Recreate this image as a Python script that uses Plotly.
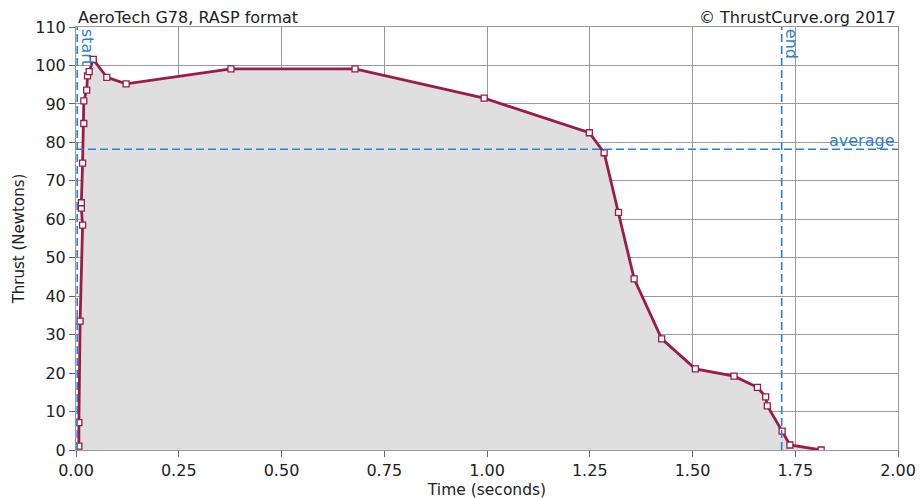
import plotly.graph_objects as go

# Data
time_s = [0.007, 0.007, 0.010, 0.016, 0.013, 0.013, 0.016, 0.019, 0.019, 0.026,
          0.028, 0.032, 0.042, 0.075, 0.122, 0.377, 0.679, 0.993, 1.249, 1.285,
          1.320, 1.358, 1.425, 1.507, 1.601, 1.658, 1.678, 1.682, 1.718, 1.737, 1.813]
thrust_n = [1.0, 7.1, 33.5, 58.5, 62.9, 64.3, 74.6, 84.9, 90.8, 93.6,
            97.3, 98.4, 101.6, 96.9, 95.2, 99.1, 99.1, 91.5, 82.5, 77.3,
            61.8, 44.5, 28.9, 21.1, 19.2, 16.3, 13.8, 11.5, 4.9, 1.3, 0.0]
start_t = 0.003
end_t = 1.717
average_n = 78.2

title_text = "AeroTech G78, RASP format"
credit_text = "© ThrustCurve.org 2017"
x_ticks = [0, 0.25, 0.5, 0.75, 1.0, 1.25, 1.5, 1.75, 2.0]
y_ticks = list(range(0, 111, 10))

line_col = "#9c1c47"
blue = "#2a7fdc"
grid = "#9a9a9a"
font = "DejaVu Sans"
fs = 16

fig = go.Figure()
fig.add_trace(go.Scatter(
    x=time_s, y=thrust_n, mode="lines+markers", fill="tozeroy",
    fillcolor="#dfdfdf",
    line=dict(color=line_col, width=2.8),
    marker=dict(symbol="square", size=6, color="white",
                line=dict(color=line_col, width=1.3)),
    showlegend=False, hoverinfo="x+y"))

for xv in (start_t, end_t):
    fig.add_shape(type="line", x0=xv, x1=xv, y0=0, y1=110, xref="x", yref="y",
                  line=dict(color=blue, width=1.6, dash="8px,4px"))
fig.add_shape(type="line", x0=0, x1=2, y0=average_n, y1=average_n, xref="x", yref="y",
              line=dict(color=blue, width=1.6, dash="8px,4px"))

fig.add_annotation(x=start_t, y=110, xref="x", yref="y", text="start", textangle=90,
                   showarrow=False, xanchor="left", yanchor="top", xshift=-1,
                   font=dict(family=font, size=fs, color=blue))
fig.add_annotation(x=end_t, y=110, xref="x", yref="y", text="end", textangle=90,
                   showarrow=False, xanchor="left", yanchor="top", xshift=-1,
                   font=dict(family=font, size=fs, color=blue))
fig.add_annotation(x=2, y=average_n, xref="x", yref="y", text="average",
                   showarrow=False, xanchor="right", yanchor="bottom", xshift=-1, yshift=-3,
                   font=dict(family=font, size=fs, color=blue))

fig.add_annotation(x=0, y=1, xref="paper", yref="paper", text=title_text,
                   showarrow=False, xanchor="left", yanchor="bottom", yshift=-2,
                   font=dict(family=font, size=fs, color="#222"))
fig.add_annotation(x=1, y=1, xref="paper", yref="paper", text=credit_text,
                   showarrow=False, xanchor="right", yanchor="bottom", yshift=-2,
                   font=dict(family=font, size=fs, color="#222"))

fig.update_xaxes(range=[0, 2], tickvals=x_ticks, tickformat=".2f",
                 showgrid=True, gridcolor=grid, gridwidth=1,
                 showline=True, linecolor=grid, mirror=True, linewidth=1,
                 ticks="outside", ticklen=6, tickcolor="#666",
                 zeroline=False, automargin=False,
                 title=dict(text="Time (seconds)", standoff=8,
                            font=dict(family=font, size=15.5, color="#222")),
                 tickfont=dict(family=font, size=fs, color="#222"))
fig.update_yaxes(range=[0, 110], tickvals=y_ticks,
                 showgrid=True, gridcolor=grid, gridwidth=1,
                 showline=True, linecolor=grid, mirror=True, linewidth=1,
                 ticks="outside", ticklen=6, tickcolor="#666",
                 zeroline=False, automargin=False,
                 title=dict(text="Thrust (Newtons)", standoff=7,
                            font=dict(family=font, size=15, color="#222")),
                 tickfont=dict(family=font, size=fs, color="#222"))

fig.update_layout(width=922, height=499, margin=dict(l=76, r=24, t=27, b=49),
                  plot_bgcolor="white", paper_bgcolor="white",
                  font=dict(family=font))
fig.write_html("out.html", config={"displayModeBar": False},
               post_script="document.body.style.margin='0';")
